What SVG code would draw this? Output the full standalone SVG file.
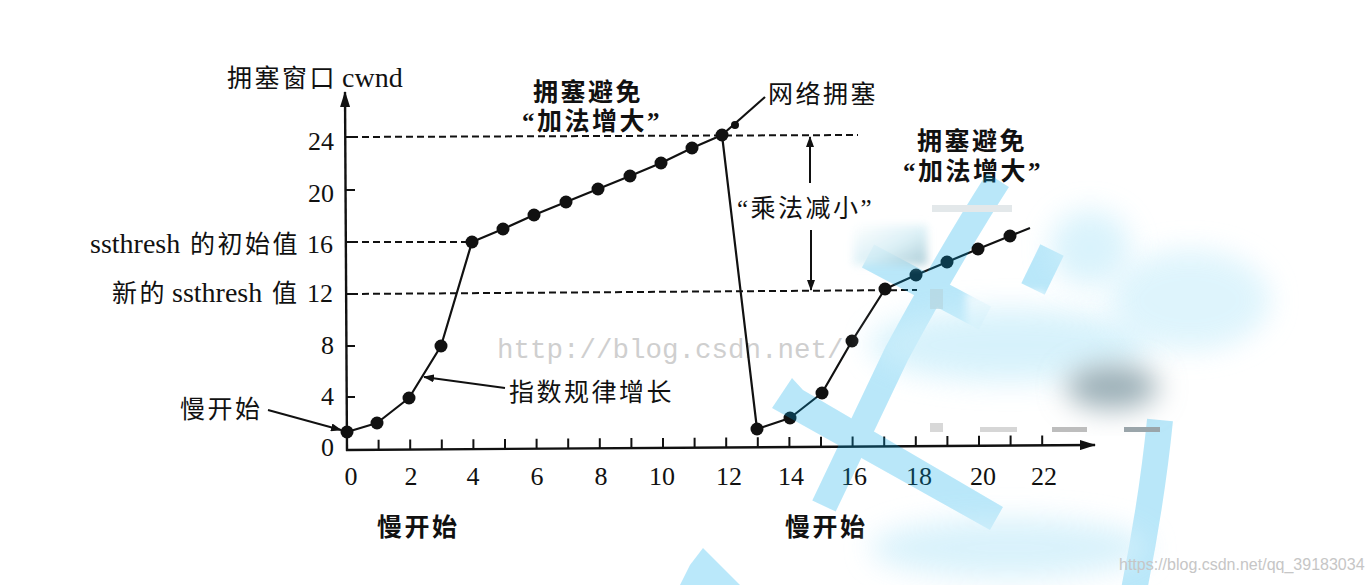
<svg xmlns="http://www.w3.org/2000/svg" width="1372" height="585" viewBox="0 0 1372 585">
<defs>
<style>
.t{font-family:"Liberation Serif","Noto Sans CJK SC",serif;fill:#111;}
.n{font-size:26px;}
.c{font-size:25px;letter-spacing:2.5px;}
.b{font-weight:bold;}
.ax{stroke:#111;stroke-width:2.4;fill:none;}
.tick{stroke:#111;stroke-width:2;fill:none;}
.dash{stroke:#111;stroke-width:2;stroke-dasharray:7 4;fill:none;}
.curve{stroke:#111;stroke-width:2.2;fill:none;stroke-linejoin:round;}
.pt{fill:#111;}
.lead{stroke:#111;stroke-width:2;fill:none;}
.wm{font-family:"Liberation Mono",monospace;font-size:27.5px;fill:#cfcfcf;}
.wm2{font-family:"Liberation Sans",sans-serif;font-size:16px;fill:#c6c6c6;}
.band{stroke:rgb(0,170,235);stroke-width:26;fill:none;}
</style>
<marker id="ah" markerWidth="11" markerHeight="8" refX="10" refY="4" orient="auto" markerUnits="userSpaceOnUse">
<path d="M0,0 L11,4 L0,8 Z" fill="#111"/>
</marker>
<marker id="axh" markerWidth="16" markerHeight="10" refX="15" refY="5" orient="auto" markerUnits="userSpaceOnUse">
<path d="M0,0 L16,5 L0,10 Z" fill="#111"/>
</marker>
<filter id="bl" x="-60%" y="-60%" width="220%" height="220%"><feGaussianBlur stdDeviation="14"/></filter>
<filter id="bl2" x="-60%" y="-60%" width="220%" height="220%"><feGaussianBlur stdDeviation="4"/></filter>
<linearGradient id="smudge" x1="0" y1="0" x2="1" y2="1">
<stop offset="0" stop-color="#ffffff"/>
<stop offset="0.55" stop-color="#d6eef5"/>
<stop offset="1" stop-color="#9cc3cf"/>
</linearGradient>
</defs>
<rect width="1372" height="585" fill="#ffffff"/>

<g id="axes">
<line class="ax" x1="347" y1="451" x2="345" y2="92" marker-end="url(#axh)"/>
<line class="ax" x1="346" y1="450" x2="1095" y2="445" marker-end="url(#axh)"/>
<path class="tick" d="M378.6,449.8v-10M410.2,449.6v-10M441.8,449.4v-10M473.4,449.2v-10M505,448.9v-10M536.6,448.7v-10M568.2,448.5v-10M599.8,448.3v-10M631.4,448.1v-10M663,447.9v-10M694.6,447.7v-10M726.2,447.5v-10M757.8,447.3v-10M789.4,447v-10M821,446.8v-10M852.6,446.6v-10M884.2,446.4v-10M915.8,446.2v-10M947.4,446v-10M979,445.8v-10M1010.6,445.6v-10M1042.2,445.4v-10"/>
<path class="tick" d="M346,397h9M346,346h9M346,294h9M346,242h9M346,190h9M345,137h9"/>
</g>

<g id="axis-labels" class="t">
<text x="227" y="87" class="c">拥塞窗口<tspan x="342" font-size="28" letter-spacing="0">cwnd</tspan></text>
<text x="334" y="150" class="n" text-anchor="end">24</text>
<text x="334" y="202" class="n" text-anchor="end">20</text>
<text y="253"><tspan x="90" font-size="28">ssthresh</tspan><tspan x="190" class="c">的初始值</tspan><tspan x="307" font-size="26">16</tspan></text>
<text y="302"><tspan x="112" class="c">新的</tspan><tspan x="172" font-size="28">ssthresh</tspan><tspan x="272" class="c">值</tspan><tspan x="307" font-size="26">12</tspan></text>
<text x="334" y="354" class="n" text-anchor="end">8</text>
<text x="334" y="405" class="n" text-anchor="end">4</text>
<text x="334" y="456" class="n" text-anchor="end">0</text>
<g class="n" text-anchor="middle">
<text x="351" y="485">0</text>
<text x="411" y="485">2</text>
<text x="473" y="485">4</text>
<text x="537" y="485">6</text>
<text x="601" y="485">8</text>
<text x="662" y="485">10</text>
<text x="729" y="485">12</text>
<text x="791" y="485">14</text>
<text x="854" y="485">16</text>
<text x="919" y="485">18</text>
<text x="983" y="485">20</text>
<text x="1044" y="485">22</text>
</g>
</g>

<g id="watermark-text">
<text class="wm" x="497" y="358">http://blog.csdn.net/</text>
</g>

<g id="connectors">
<path class="dash" d="M351,137 L858,135"/>
<path class="dash" d="M351,242 L468,242"/>
<path class="dash" d="M351,294 L917,290"/>
<polyline class="curve" points="347,432 377,423 409,398 441,346 472,242 503,229 534,215 566,202 598,189 630,176 661,163 692,148 722,135 757,429 790,418 822,393 852,341 885,289 916,275 947,262 978,249 1010,236 1030,228"/>
<line class="curve" x1="722" y1="135" x2="765" y2="97"/>
<line class="lead" x1="268" y1="410" x2="341" y2="430" marker-end="url(#ah)"/>
<line class="lead" x1="505" y1="388" x2="424" y2="377" marker-end="url(#ah)"/>
<line class="lead" x1="810" y1="183" x2="810" y2="137" marker-end="url(#ah)"/>
<line class="lead" x1="811" y1="230" x2="811" y2="290" marker-end="url(#ah)"/>
</g>

<g id="points" class="pt">
<circle cx="347" cy="432" r="6.5"/><circle cx="377" cy="423" r="6.5"/><circle cx="409" cy="398" r="6.5"/><circle cx="441" cy="346" r="6.5"/>
<circle cx="472" cy="242" r="6.5"/><circle cx="503" cy="229" r="6.5"/><circle cx="534" cy="215" r="6.5"/><circle cx="566" cy="202" r="6.5"/>
<circle cx="598" cy="189" r="6.5"/><circle cx="630" cy="176" r="6.5"/><circle cx="661" cy="163" r="6.5"/><circle cx="692" cy="148" r="6.5"/>
<circle cx="722" cy="135" r="6.5"/><circle cx="735" cy="125" r="4"/>
<circle cx="757" cy="429" r="6.5"/><circle cx="790" cy="418" r="6.5"/><circle cx="822" cy="393" r="6.5"/><circle cx="852" cy="341" r="6.5"/>
<circle cx="885" cy="289" r="6.5"/><circle cx="916" cy="275" r="6.5"/><circle cx="947" cy="262" r="6.5"/><circle cx="978" cy="249" r="6.5"/>
<circle cx="1010" cy="236" r="6.5"/>
</g>

<g id="labels" class="t">
<text x="533" y="101" class="c b" letter-spacing="3">拥塞避免</text>
<text x="522" y="130" class="c b" letter-spacing="2">“加法增大”</text>
<text x="768" y="103" class="c" letter-spacing="3">网络拥塞</text>
<text x="917" y="150" class="c b" letter-spacing="3">拥塞避免</text>
<text x="903" y="180" class="c b" letter-spacing="2">“加法增大”</text>
<text x="737" y="217" class="c" letter-spacing="2">“乘法减小”</text>
<text x="180" y="418" class="c" letter-spacing="2">慢开始</text>
<text x="509" y="401" class="c" letter-spacing="2.7">指数规律增长</text>
<text x="377" y="536" class="c b" letter-spacing="2">慢开始</text>
<text x="785" y="536" class="c b" letter-spacing="2">慢开始</text>
</g>

<g id="watermark-shapes">
<g opacity="0.27">
<path class="band" d="M998,180 Q950,255 897,353 L824,506"/>
<path d="M772,408 L792,378 L803,390 L1003,507 L990,530 Z" fill="rgb(0,170,235)"/>
<line class="band" stroke-width="24" x1="868" y1="256" x2="985" y2="318"/>
<path class="band" d="M1160,420 Q1152,500 1134,590"/>
<line class="band" stroke-width="18" x1="1052" y1="250" x2="1033" y2="289"/>
<path d="M703,548 L740,585 L680,585 L690,565 Z" fill="rgb(0,170,235)"/>
</g>
<rect x="966" y="292" width="80" height="75" fill="#ffffff" filter="url(#bl2)" opacity="0.8"/>
<ellipse cx="1010" cy="345" rx="140" ry="36" fill="#cdeffb" filter="url(#bl)" opacity="0.8"/>
<ellipse cx="1190" cy="300" rx="80" ry="50" fill="#d6f2fc" filter="url(#bl)" opacity="0.8"/>
<ellipse cx="1090" cy="248" rx="40" ry="38" fill="#cdeffb" filter="url(#bl)" opacity="0.75"/>
<ellipse cx="1112" cy="387" rx="46" ry="22" fill="#9aaeb6" filter="url(#bl)"/>
<ellipse cx="1010" cy="548" rx="140" ry="30" fill="#d3f0fb" filter="url(#bl)" opacity="0.85"/>
<rect x="853" y="225" width="74" height="40" fill="url(#smudge)" filter="url(#bl2)" opacity="0.85"/>
<rect x="932" y="205" width="80" height="7" fill="#e3e8ea"/>
<rect x="930" y="289" width="13" height="20" fill="#b6d6df" opacity="0.7"/>
<rect x="930" y="423" width="13" height="9" fill="#d8d8d8"/>
<rect x="980" y="427" width="37" height="5" fill="#d6d6d6"/>
<rect x="1052" y="427" width="35" height="5" fill="#bdbdbd"/>
<rect x="1124" y="427" width="36" height="5" fill="#9aa5aa"/>
</g>

<g id="watermark-url">
<text class="wm2" x="1119" y="570">https://blog.csdn.net/qq_39183034</text>
</g>
</svg>
